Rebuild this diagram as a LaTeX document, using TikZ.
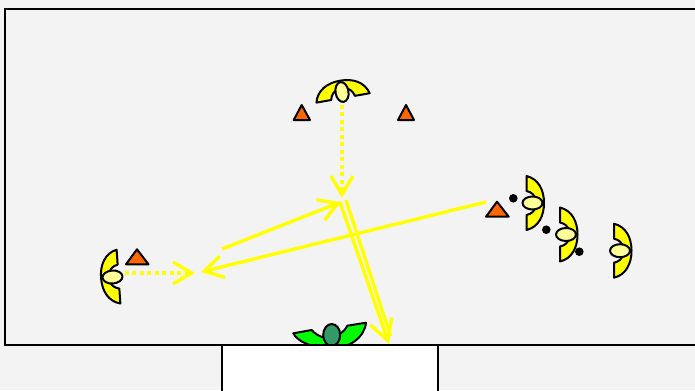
\documentclass[tikz,border=0pt]{standalone}
\usetikzlibrary{arrows.meta}
\definecolor{bgc}{RGB}{243,243,243}
\definecolor{tri}{RGB}{255,102,0}
\definecolor{yel}{RGB}{255,255,0}
\definecolor{headc}{RGB}{255,255,153}
\definecolor{greenhead}{RGB}{51,153,102}
\definecolor{wingg}{RGB}{0,255,0}
\tikzset{
  outl/.style={draw=black,line width=2*0.75pt,line join=round},
  mvplain/.style={draw=yel,line width=3.4*0.75pt},
  mv/.style={mvplain,
    -{Straight Barb[length=14pt,width=16.5pt,line width=3.4*0.75pt]}},
  mvlong/.style={mvplain,
    -{Straight Barb[length=15.5pt,width=17pt,line width=3.4*0.75pt]}},
  dotmv/.style={mv,dash pattern=on 3pt off 2.6pt},
  marker/.style={outl,fill=tri},
  blackdot/.style={fill=black},
  pics/player/.style n args={2}{code={
    \path[outl,fill=#1] (-6,-27) .. controls (6,-24) and (11.5,-13) .. (11.5,0)
       .. controls (11.5,13) and (6,24) .. (-6,27) -- (-6,12)
       .. controls (-1,11) and (2,8) .. (3,4) -- (3,-4)
       .. controls (2,-8) and (-1,-11) .. (-6,-12) -- cycle;
    \path[outl,fill=#2] (0,0) ellipse [x radius=10, y radius=6.5];
  }}
}
\begin{document}
\begin{tikzpicture}[x=0.75pt,y=-0.75pt]
\useasboundingbox (0,0) rectangle (695,390);
\fill[bgc] (0,0) rectangle (695,390);
\draw[black,line width=2*0.75pt] (696,9) -- (5,9) -- (5,345) -- (696,345);

% coordinates of the movement arrows
\coordinate (dtopS) at (342,105);
\coordinate (dtopE) at (342,198);
\coordinate (dleftS) at (125,273);
\coordinate (dleftE) at (195,273);
\coordinate (a1S) at (222,249);
\coordinate (a1E) at (341,202);
\coordinate (a2S) at (486,202);
\coordinate (a2E) at (201,272);
\coordinate (a3S) at (340,202);
\coordinate (a3E) at (389,344);
\coordinate (a4S) at (346,200);
\coordinate (a4E) at (390.5,336);

% green player and box
\path[outl,fill=wingg] (293.3,333.3) .. controls (298,342) and (312,348) .. (331,348)
   .. controls (350,348) and (364,338) .. (366,322.7) -- (347.3,325.7)
   .. controls (346,329) and (343,332) .. (338,335) -- (325,338)
   .. controls (318,336) and (314,333) .. (311.7,330) -- cycle;
\path[outl,fill=greenhead] (331.7,335) ellipse [x radius=8.5, y radius=11];
\path[outl,fill=white] (222,392) -- (222,345) -- (438,345) -- (438,392);

% markers
\path[marker] (301.7,105) -- (310,120) -- (293.7,120) -- cycle;
\path[marker] (406,105) -- (414,120) -- (398,120) -- cycle;
\path[marker] (497,201.7) -- (508.7,216.7) -- (486,216.7) -- cycle;
\path[marker] (137,249.3) -- (148.5,264.3) -- (126,264.3) -- cycle;

% dots
\fill[blackdot] (513.3,198.3) circle [radius=4.3];
\fill[blackdot] (546.3,229.7) circle [radius=4.3];
\fill[blackdot] (579.3,251.7) circle [radius=4.3];

% arrows
\draw[dotmv] (dtopS) -- (dtopE);
\draw[dotmv] (dleftS) -- (dleftE);
\draw[mv] (a1S) -- (a1E);
\draw[mv] (a2S) -- (a2E);
\draw[mvlong] (a3S) -- (a3E);
\draw[mvplain] (a4S) -- (a4E);

% players
\pic[rotate=100] at (342,92) {player={yel}{headc}};
\pic at (532.5,203) {player={yel}{headc}};
\pic at (566,234.5) {player={yel}{headc}};
\pic at (620,250.7) {player={yel}{headc}};
\pic[rotate=184] at (112.5,277) {player={yel}{headc}};
\end{tikzpicture}
\end{document}
